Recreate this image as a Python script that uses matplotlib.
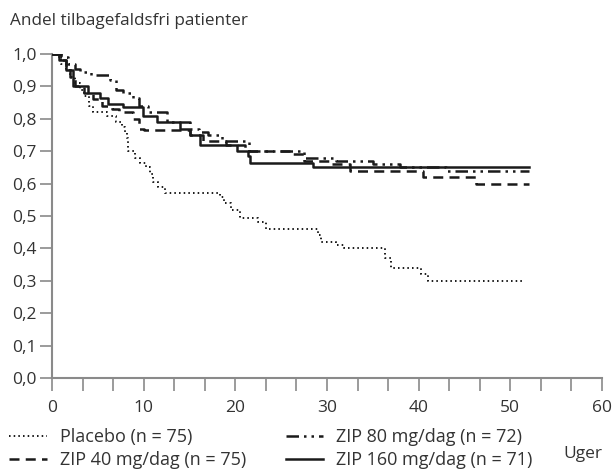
import matplotlib
matplotlib.use("Agg")
import matplotlib.pyplot as plt
from matplotlib.ticker import FuncFormatter, MultipleLocator

# Kaplan-Meier kurver (uger, andel)
placebo_uger = [0, 0.5, 1, 1.5, 2, 2.5, 3, 3.5, 4, 4.5, 6, 7, 7.6, 8, 8.2, 8.3, 9, 9.6,
                10.2, 10.7, 11, 11.6, 12.3, 18.3, 18.8, 19.5, 20.5, 22.5, 23.3, 29, 29.4,
                31, 31.8, 36.3, 37, 40.3, 41, 51.6]
placebo_andel = [1.0, 0.99, 0.97, 0.95, 0.93, 0.91, 0.89, 0.87, 0.84, 0.82, 0.81, 0.79, 0.775,
                 0.76, 0.74, 0.70, 0.68, 0.665, 0.65, 0.63, 0.605, 0.59, 0.57, 0.56, 0.54, 0.52,
                 0.495, 0.48, 0.46, 0.44, 0.42, 0.41, 0.40, 0.37, 0.34, 0.32, 0.30, 0.30]

zip40_uger = [0, 1, 1.5, 2, 2.5, 3.5, 4.5, 5.5, 6.5, 7.3, 8.8, 9.5, 10, 15, 16.5, 19, 21, 26,
              27.5, 30.5, 32.5, 40.5, 46.3, 52]
zip40_andel = [1.0, 0.98, 0.96, 0.93, 0.90, 0.88, 0.86, 0.84, 0.83, 0.82, 0.80, 0.77, 0.765,
               0.75, 0.73, 0.72, 0.70, 0.69, 0.67, 0.66, 0.64, 0.62, 0.60, 0.60]

zip80_uger = [0, 1, 1.7, 2.5, 3, 4.2, 6.3, 7, 7.7, 8.8, 9.5, 10.5, 12.5, 15, 16, 17, 18.5,
              21.5, 27.5, 31, 35, 38, 43, 52]
zip80_andel = [1.0, 0.99, 0.97, 0.955, 0.945, 0.935, 0.92, 0.89, 0.88, 0.865, 0.84, 0.82,
               0.79, 0.77, 0.76, 0.75, 0.73, 0.70, 0.68, 0.67, 0.66, 0.65, 0.64, 0.64]

zip160_uger = [0, 0.8, 1.5, 2.3, 3.9, 5.2, 6.1, 7.7, 9.9, 11.5, 14, 15, 16.1, 20.2, 21.4,
               21.6, 28.5, 52]
zip160_andel = [1.0, 0.98, 0.95, 0.90, 0.88, 0.865, 0.845, 0.835, 0.81, 0.79, 0.77, 0.75,
                0.72, 0.70, 0.685, 0.665, 0.65, 0.65]

etiketter = ["Placebo (n = 75)", "ZIP 40 mg/dag (n = 75)",
             "ZIP 80 mg/dag (n = 72)", "ZIP 160 mg/dag (n = 71)"]

plt.rcParams['font.family'] = ['Open Sans', 'DejaVu Sans']
tekst = '#333333'
graa = '#8a8a8a'
sort = '#1a1a1a'

fig = plt.figure(figsize=(6.14, 4.71), dpi=100)
ax = fig.add_axes([52 / 614, 1 - 378 / 471, 550 / 614, 324 / 471])

ax.step(placebo_uger, placebo_andel, where='post', color=sort, lw=1.4,
        linestyle=(0, (0.8, 1.6)), label=etiketter[0])
ax.step(zip40_uger, zip40_andel, where='post', color=sort, lw=1.8,
        linestyle=(0, (4, 2.5)), label=etiketter[1])
ax.step(zip80_uger, zip80_andel, where='post', color=sort, lw=1.8,
        linestyle=(0, (5, 2, 1, 2, 1, 2)), label=etiketter[2])
ax.step(zip160_uger, zip160_andel, where='post', color=sort, lw=1.8,
        linestyle='-', label=etiketter[3])

ax.set_xlim(0, 60)
ax.set_ylim(0, 1)
ax.xaxis.set_major_locator(MultipleLocator(10))
ax.xaxis.set_minor_locator(MultipleLocator(10 / 3))
ax.yaxis.set_major_locator(MultipleLocator(0.1))
ax.yaxis.set_major_formatter(FuncFormatter(lambda v, p: f"{v:.1f}".replace('.', ',')))

for s in ['top', 'right']:
    ax.spines[s].set_visible(False)
for s in ['left', 'bottom']:
    ax.spines[s].set_color(graa)
    ax.spines[s].set_linewidth(1.5)
ax.spines['left'].set_zorder(0)
ax.tick_params(axis='both', which='both', color=graa, width=1.2, length=9,
               labelcolor=tekst, labelsize=12.5)
ax.tick_params(axis='x', pad=7)
ax.tick_params(axis='y', pad=2)

fig.text(10 / 614, 1 - 21 / 471, "Andel tilbagefaldsfri patienter", fontsize=12.3,
         color=tekst, va='center', ha='left')
fig.text(583 / 614, 1 - 454 / 471, "Uger", fontsize=12.5, color=tekst, va='center', ha='center')

fig.legend(loc='upper left', bbox_to_anchor=(9 / 614, 1 - 428 / 471), ncol=2,
           frameon=False, fontsize=13, handlelength=2.1, handletextpad=0.7,
           columnspacing=2.2, labelspacing=0.28, borderpad=0, borderaxespad=0,
           labelcolor=tekst)

fig.savefig("out.png", dpi=100)
